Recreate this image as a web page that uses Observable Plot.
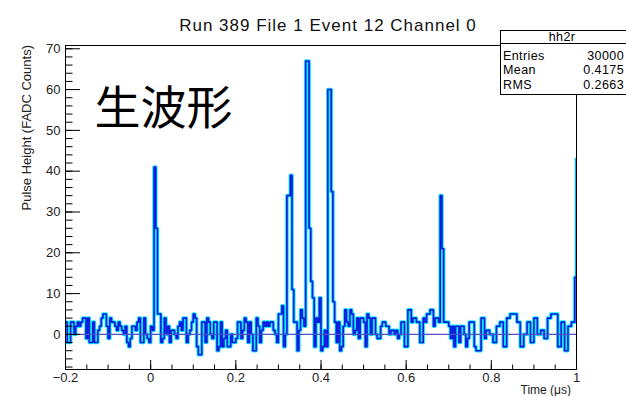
<!DOCTYPE html>
<html><head><meta charset="utf-8">
<script src="https://cdn.jsdelivr.net/npm/d3@7"></script>
<script src="https://cdn.jsdelivr.net/npm/@observablehq/plot@0.6"></script>
<style>
body{margin:0;background:#fff;}
#chart{width:626px;height:396px;}
svg{font-family:"Liberation Sans",Arial,sans-serif;}
</style></head><body><div id="chart"></div>
<script>
const chartTitle = "Run 389 File 1 Event 12 Channel 0";
const yLabel = "Pulse Height (FADC Counts)";
const xLabel = "Time (\u03bcs)";
const overlayText = "生波形";
const statsTitle = "hh2r";
const statsLabels = ["Entries", "Mean", "RMS"];
const statsValues = ["30000", "0.4175", "0.2663"];

const binStart = -0.2, binWidth = 0.004;
// FADC samples, one per 4 ns bin from -0.2 us; last value lies past 1 us (clipped)
const counts = [
  3, -2, -2, 3, 3, 0, 2, 3, 2, 3,
  4, 4, -1, 4, -2, -2, 3, -2, -2, 1,
  2, 4, 5, 5, 2, -1, 4, 3, 3, 2,
  1, 3, 2, 1, 0, 2, -2, -3, -1, 2,
  2, 1, 3, 4, -2, -2, 4, 0, -1, -2,
  2, 1, 41, 26, 5, 5, -2, -1, 4, 0,
  2, -2, 1, 1, 0, -1, 2, 3, 1, 4,
  4, -2, 0, 1, 3, 5, 4, -3, -5, -5,
  3, 3, -2, 4, 3, 0, -1, 3, 3, -4,
  -3, 3, -3, -1, 1, -3, -3, 0, -2, -2,
  -1, 3, 3, -1, 1, 4, 3, -2, 3, 0,
  -4, -4, 4, 2, -2, 1, 3, 2, 3, 2,
  3, 3, 1, 0, -2, 5, 5, 7, -3, 0,
  34, 34, 39, 11, 3, 3, -4, 1, 6, 4,
  2, 67, 67, 26, 13, 9, -3, 4, 3, 9,
  -4, -3, 1, -3, 60, 60, 35, 8, 3, -2,
  3, -4, -3, 2, 6, 3, 2, 6, 5, 0,
  1, 4, -1, 4, 4, 3, -3, 5, 4, 0,
  4, 4, 0, -1, -1, 2, 3, 3, 2, 2,
  0, 1, 1, 0, 1, -1, 0, 3, 3, -3,
  -3, 6, 6, 3, 4, 4, 3, 3, -2, -2,
  4, 3, 5, 5, 6, 6, 2, 4, 4, 3,
  34, 21, 3, 3, 3, 2, -1, 2, -3, 2,
  2, -2, 2, 2, 0, -3, -1, 3, 3, 3,
  -3, -4, -4, -4, 4, 4, -1, 1, 1, 0,
  0, -2, -2, 2, 2, 3, 3, -3, -3, 4,
  4, 5, 5, 5, 5, 3, 3, -3, -3, 0,
  0, 3, 3, -2, -2, 4, 4, 0, 0, 1,
  1, -1, -1, 4, 4, 5, 5, 5, 5, -3,
  -3, 3, 3, -4, -4, 2, 2, 3, 3, 14,
  43
];
const xMajor = [-0.2, 0, 0.2, 0.4, 0.6, 0.8, 1];
const yMajor = [0, 10, 20, 30, 40, 50, 60, 70];
const xMinor = d3.range(-0.2, 1.0001, 0.05);
const yMinor = d3.range(-8, 70.1, 2);

const rows = counts.map((v, i) => ({x: binStart + i * binWidth, v}));
rows.push({x: binStart + counts.length * binWidth, v: counts[counts.length - 1]});

const W = 626, H = 396, mL = 65, mR = 50, mT = 45, mB = 27;
const pw = W - mL - mR, ph = H - mT - mB;
const font = "Liberation Sans, Arial, sans-serif";

const plot = Plot.plot({
  width: W, height: H,
  marginLeft: mL, marginRight: mR, marginTop: mT, marginBottom: mB,
  style: {fontFamily: font, background: "white", color: "black"},
  x: {domain: [-0.2, 1.0], label: null},
  y: {domain: [-8.6, 70.8], label: null},
  marks: [
    Plot.line(rows, {x: "x", y: "v", curve: "step-after", stroke: "#14eaff", strokeWidth: 3.6, clip: true}),
    Plot.line(rows, {x: "x", y: "v", curve: "step-after", stroke: "#0a14dc", strokeWidth: 1.6, clip: true}),
    Plot.ruleY([0], {stroke: "#5050c8", strokeWidth: 1.4}),
    Plot.frame({stroke: "black", strokeWidth: 1}),
    Plot.tickX(xMajor, {x: d => d, insetTop: ph - 9, stroke: "black"}),
    Plot.tickX(xMinor, {x: d => d, insetTop: ph - 4.5, stroke: "black"}),
    Plot.tickY(yMajor, {y: d => d, insetRight: pw - 15, stroke: "black"}),
    Plot.tickY(yMinor, {y: d => d, insetRight: pw - 7.5, stroke: "black"}),
    Plot.axisX(xMajor, {tickSize: 0, tickPadding: 3, fontSize: 13, fill: "#222", tickFormat: d => d === -0.2 ? "\u22120.2" : String(d)}),
    Plot.axisY(yMajor, {tickSize: 0, tickPadding: 5, fontSize: 13, fill: "#222"}),
    Plot.text([chartTitle], {frameAnchor: "top", dy: -27, dx: 7, fontSize: 17, fill: "#111"}),
    Plot.text([overlayText], {frameAnchor: "top-left", dx: 29, dy: 46, fontSize: 46, textAnchor: "start", fontFamily: "Noto Sans CJK JP", fill: "black"})
  ]
});

const svg = d3.select(plot);
svg.selectAll("text").filter(function() { return this.textContent === chartTitle; })
  .style("letter-spacing", "1px");
// axis titles
svg.append("text").attr("transform", `translate(31,${mT}) rotate(-90)`)
  .attr("text-anchor", "end").attr("font-size", 13).attr("fill", "#222").attr("font-family", font).text(yLabel);
svg.append("text").attr("x", 571).attr("y", 394)
  .attr("text-anchor", "end").attr("font-size", 12).attr("fill", "#222").attr("font-family", font).text(xLabel);
// stats box
const g = svg.append("g").attr("font-family", font).attr("font-size", 12.5).attr("fill", "black").style("letter-spacing", "0.4px");
g.append("rect").attr("x", 500.5).attr("y", 30.5).attr("width", 130).attr("height", 64).attr("fill", "white").attr("stroke", "black");
g.append("line").attr("x1", 500.5).attr("x2", 626).attr("y1", 43.5).attr("y2", 43.5).attr("stroke", "black");
g.append("text").attr("x", 562).attr("y", 37).attr("dy", "0.35em").attr("text-anchor", "middle").text(statsTitle);
const rowY = [55.5, 70, 84.5];
statsLabels.forEach((t, i) => {
  g.append("text").attr("x", 503).attr("y", rowY[i]).attr("dy", "0.35em").attr("text-anchor", "start").text(t);
  g.append("text").attr("x", 624).attr("y", rowY[i]).attr("dy", "0.35em").attr("text-anchor", "end").text(statsValues[i]);
});
document.getElementById("chart").appendChild(plot);
</script></body></html>
